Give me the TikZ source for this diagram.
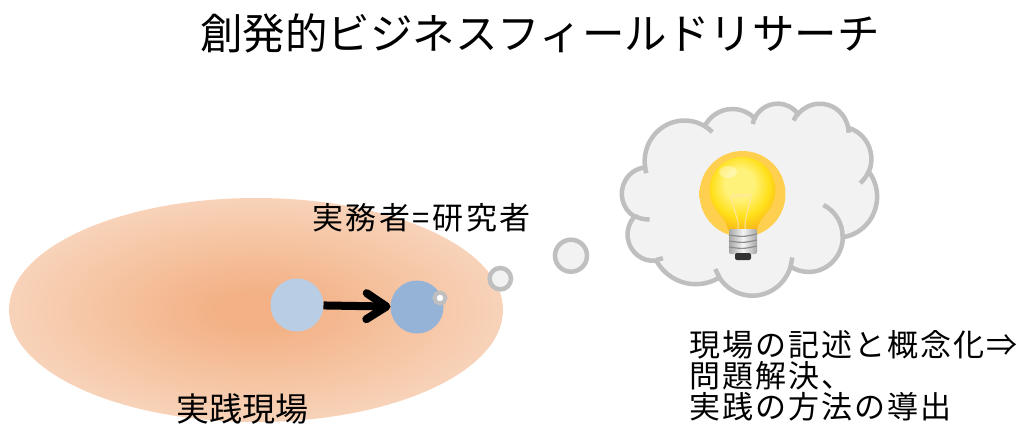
\documentclass[tikz,border=0pt]{standalone}
\usepackage{fontspec}
\setmainfont{Noto Sans CJK JP}
\usetikzlibrary{arrows.meta}

\definecolor{fieldcore}{HTML}{F3B185}
\definecolor{fieldrim}{HTML}{FAE3D2}
\definecolor{personA}{HTML}{B9CDE5}
\definecolor{personB}{HTML}{95B3D7}
\definecolor{cloudfill}{HTML}{F2F2F2}
\definecolor{cloudline}{HTML}{BFBFBF}
\definecolor{glowcol}{HTML}{FFCF50}
\definecolor{bulbhi}{HTML}{FFF27A}
\definecolor{bulbmid}{HTML}{FFE01A}
\definecolor{bulbedge}{HTML}{F7A21B}
\definecolor{filament}{HTML}{FFE7A0}
\definecolor{metal}{HTML}{A6A6A6}
\definecolor{metallight}{HTML}{F4F4F4}

% radial shadings: the path's bounding box corners sit at 50bp, so its rim is near 35bp
% soft field behind the practitioner
\pgfdeclareradialshading{fieldshade}{\pgfpoint{0bp}{0bp}}%
  {color(0bp)=(fieldcore); color(4bp)=(fieldcore); color(35bp)=(fieldrim); color(50bp)=(fieldrim)}
% halo around the lamp
\pgfdeclareradialshading{glowshade}{\pgfpoint{0bp}{0bp}}%
  {color(0bp)=(glowcol); color(27bp)=(glowcol); color(35bp)=(cloudfill); color(50bp)=(cloudfill)}
% glass of the lamp
\pgfdeclareradialshading{globeshade}{\pgfpoint{-2bp}{6bp}}%
  {color(0bp)=(bulbhi); color(10bp)=(bulbhi); color(20bp)=(bulbmid); color(29bp)=(bulbedge!70!bulbmid); color(36bp)=(bulbedge); color(50bp)=(bulbedge)}

\tikzset{
  % elliptical arc given as in a preset shape: radii, visual start angle, sweep
  carc/.style n args={4}{insert path={
    arc[x radius=#1, y radius=#2,
        start angle={atan2((#1)*sin(#3),(#2)*cos(#3))},
        delta angle={Mod(atan2((#1)*sin((#3)+(#4)),(#2)*cos((#3)+(#4)))-atan2((#1)*sin(#3),(#2)*cos(#3)),360)}]}},
  bubble/.style={draw=cloudline, fill=cloudfill, line width=4.5pt},
  person/.style={circle, minimum size=53pt, inner sep=0pt, outer sep=0pt},
  title/.style={font=\fontsize{42.5}{42.5}\selectfont, inner sep=0pt, anchor=base},
  lbl/.style={font=\fontsize{31}{31}\selectfont\addfontfeatures{LetterSpace=8}, inner sep=0pt, anchor=base},
  note/.style={font=\fontsize{31}{31}\selectfont\addfontfeatures{LetterSpace=6.5}, inner sep=0pt, anchor=base west},
}

\begin{document}
\begin{tikzpicture}[x=1pt, y=-1pt]
\fill[white] (0,0) rectangle (1028,440);
\useasboundingbox (0,0) rectangle (1028,440);

% title
\node[title] (ttl) at (540,49) {創発的ビジネスフィールドリサーチ};

% field of practice
\path[shading=fieldshade] (256,310) ellipse[x radius=247, y radius=112];

% thought bubbles
\path[bubble] (500.3,278.7) circle[radius=10.7];
\path[bubble] (571,255.7) circle[radius=16];

% cloud
\begin{scope}[shift={(622,103)}, x=2.55pt, y=-1.92pt]
  \path[bubble] (9.028,33.264)
    [carc={15.632}{21.273}{-190.4875}{123.7805}]
    [carc={12.345}{16.822}{-144.1024}{89.9452}]
    [carc={10.104}{13.762}{-145.8079}{99.7230}]
    [carc={11.243}{15.266}{-130.9861}{117.2417}]
    [carc={12.345}{16.836}{-78.7089}{109.0269}]
    [carc={15.683}{21.343}{-46.2673}{130.2690}]
    [carc={13.391}{18.211}{0.6250}{114.0333}]
    [carc={15.630}{21.331}{22.4516}{115.1726}]
    [carc={17.870}{24.405}{66.2426}{75.7110}]
    [carc={10.093}{13.699}{-274.9421}{146.7356}]
    [carc={10.058}{13.762}{-246.8285}{152.5189}] -- cycle;
  \draw[cloudline, line width=4.5pt]
    (10.863,60.595) [carc={10.058}{13.762}{86.742}{26.430}]
    (16.037,80.785) [carc={10.093}{13.699}{73.610}{11.447}]
    (38.144,90.486) [carc={15.630}{21.331}{137.624}{14.081}]
    (66.729,80.442) [carc={15.630}{21.331}{6.453}{15.998}]
    (79.002,53.134) [carc={13.391}{18.211}{-70.292}{70.917}]
    (96.755,35.542) [carc={12.345}{16.836}{30.318}{27.752}]
    (88.713,12.560) [carc={11.243}{15.266}{-13.744}{14.859}]
    (67.310,9.148)  [carc={11.243}{15.266}{-149.181}{18.195}]
    (51.252,10.926) [carc={10.104}{13.762}{-163.494}{17.686}]
    (32.407,12.019) [carc={15.632}{21.273}{-66.707}{12.319}]
    (9.553,36.549)  [carc={15.632}{21.273}{157.654}{11.858}];
\end{scope}

% light bulb
\path[shading=glowshade] (742.5,194) circle[radius=43];
\path[shading=globeshade] (728,230) .. controls (727,222) and (721,217) .. (717.2,211.2)
  arc[start angle=140, end angle=400, radius=33]
  .. controls (764,217) and (758,222) .. (757,230) -- cycle;
\fill[white, opacity=0.35] (728,172) ellipse[x radius=9, y radius=6];
\draw[filament, line width=1pt, line join=round]
  (731,197) -- (733,194) -- (735,197) -- (737,194) -- (739,197) -- (741,194)
  -- (743,197) -- (745,194) -- (747,197) -- (749,194) -- (751,197)
  (731,197) -- (738,222) -- (738,230)
  (751,197) -- (745,222) -- (745,230);
\shade[left color=metal, right color=metal, middle color=metallight, rounded corners=2pt]
  (729,229) rectangle (757,254);
\foreach \ry in {235,241,247} {
  \draw[metal!85!black, line width=1.2pt] (729,\ry) .. controls (743,\ry+2) .. (757,\ry-1);
}
\fill[black!80, rounded corners=2pt] (735,253) rectangle (751,260);

% practitioner turning researcher
\node[person, fill=personA] (pa) at (297,305) {};
\node[person, fill=personB] (pb) at (417,307) {};
\draw[line width=8pt, -{Straight Barb[length=20pt, width=26pt, round]}] (pa) -- (pb);
\node[circle, draw=cloudline, fill=white, line width=4pt, minimum size=11pt, inner sep=0pt] (dot) at (440,298) {};

% labels
\node[lbl] (role) at (421.5,229) {実務者=研究者};
\node[lbl, font=\fontsize{33}{33}\selectfont] (site) at (242.5,421.5) {実践現場};
\node[note] (n1) at (689,356) {現場の記述と概念化⇒};
\node[note] (n2) at (689,387) {問題解決、};
\node[note] (n3) at (689,418) {実践の方法の導出};
\end{tikzpicture}
\end{document}
